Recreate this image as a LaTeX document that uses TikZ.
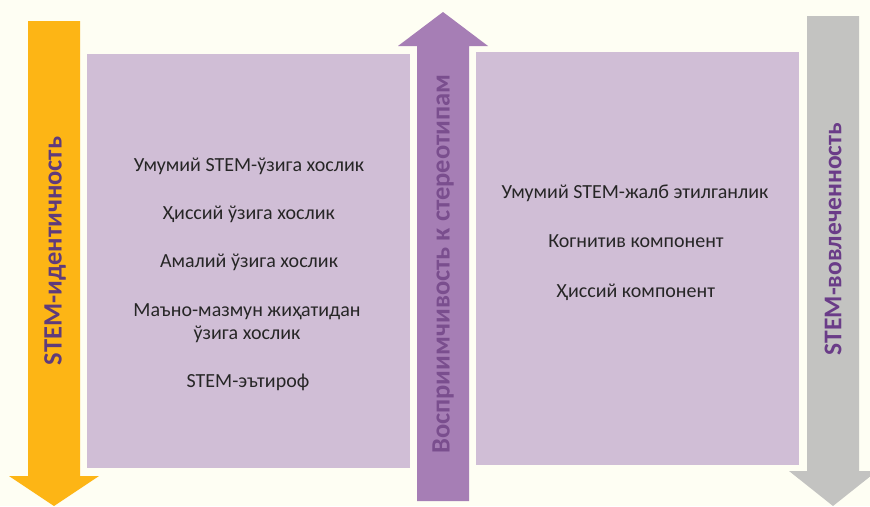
\documentclass[tikz,border=0pt]{standalone}
\usepackage{fontspec}
\setmainfont{Carlito}
\definecolor{bg}{HTML}{FEFEF3}
\definecolor{orangeA}{HTML}{FDB515}
\definecolor{boxC}{HTML}{D0BED6}
\definecolor{purpA}{HTML}{A67EB5}
\definecolor{greyA}{HTML}{C3C3C1}
\definecolor{labA}{HTML}{5F3B7C}
\definecolor{labB}{HTML}{7A4E8E}
\definecolor{labC}{HTML}{6A3C88}
\definecolor{txt}{HTML}{262626}
\begin{document}
\begin{tikzpicture}[x=1pt,y=-1pt,
  panel/.style={fill=boxC,draw=none},
  itemtxt/.style={font=\fontsize{20}{23}\selectfont,text=txt,anchor=base,inner sep=0pt,align=center},
  arrowlab/.style={font=\fontsize{26.5}{30}\selectfont\bfseries,rotate=90,inner sep=0pt}]
\useasboundingbox (0,0) rectangle (870,506);
\fill[bg] (0,0) rectangle (870,506);
% panels
\path[panel] (87,54) rectangle (410,468);
\path[panel] (476,52) rectangle (799,465);
% orange arrow (down)
\fill[orangeA] (28,21) -- (80,21) -- (80,476) -- (99,476) -- (54,506) -- (9,476) -- (28,476) -- cycle;
% purple arrow (up)
\fill[purpA] (417,501) -- (469,501) -- (469,46) -- (488,46) -- (443,12) -- (398,46) -- (417,46) -- cycle;
% grey arrow (down)
\fill[greyA] (807,16) -- (859,16) -- (859,471) -- (877,471) -- (833,506) -- (789,471) -- (807,471) -- cycle;
% arrow labels
\node[arrowlab,text=labA] (la) at (55,251) {STEM-идентичность};
\node[arrowlab,text=labB] (lb) at (443,264) {Восприимчивость к стереотипам};
\node[arrowlab,text=labC,font=\fontsize{25.5}{30}\selectfont\bfseries] (lc) at (833,239) {STEM-вовлеченность};
% left panel texts
\node[itemtxt] (l1) at (249,171) {Умумий STEM-ўзига хослик};
\node[itemtxt] (l2) at (249,219) {Ҳиссий ўзига хослик};
\node[itemtxt] (l3) at (249,267) {Амалий ўзига хослик};
\node[itemtxt] (l4) at (247,316) {Маъно-мазмун жиҳатидан};
\node[itemtxt] (l5) at (247,339) {ўзига хослик};
\node[itemtxt] (l6) at (248,387) {STEM-эътироф};
% right panel texts
\node[itemtxt] (r1) at (635,198) {Умумий STEM-жалб этилганлик};
\node[itemtxt] (r2) at (636,247.5) {Когнитив компонент};
\node[itemtxt] (r3) at (636,297) {Ҳиссий компонент};
\end{tikzpicture}
\end{document}
